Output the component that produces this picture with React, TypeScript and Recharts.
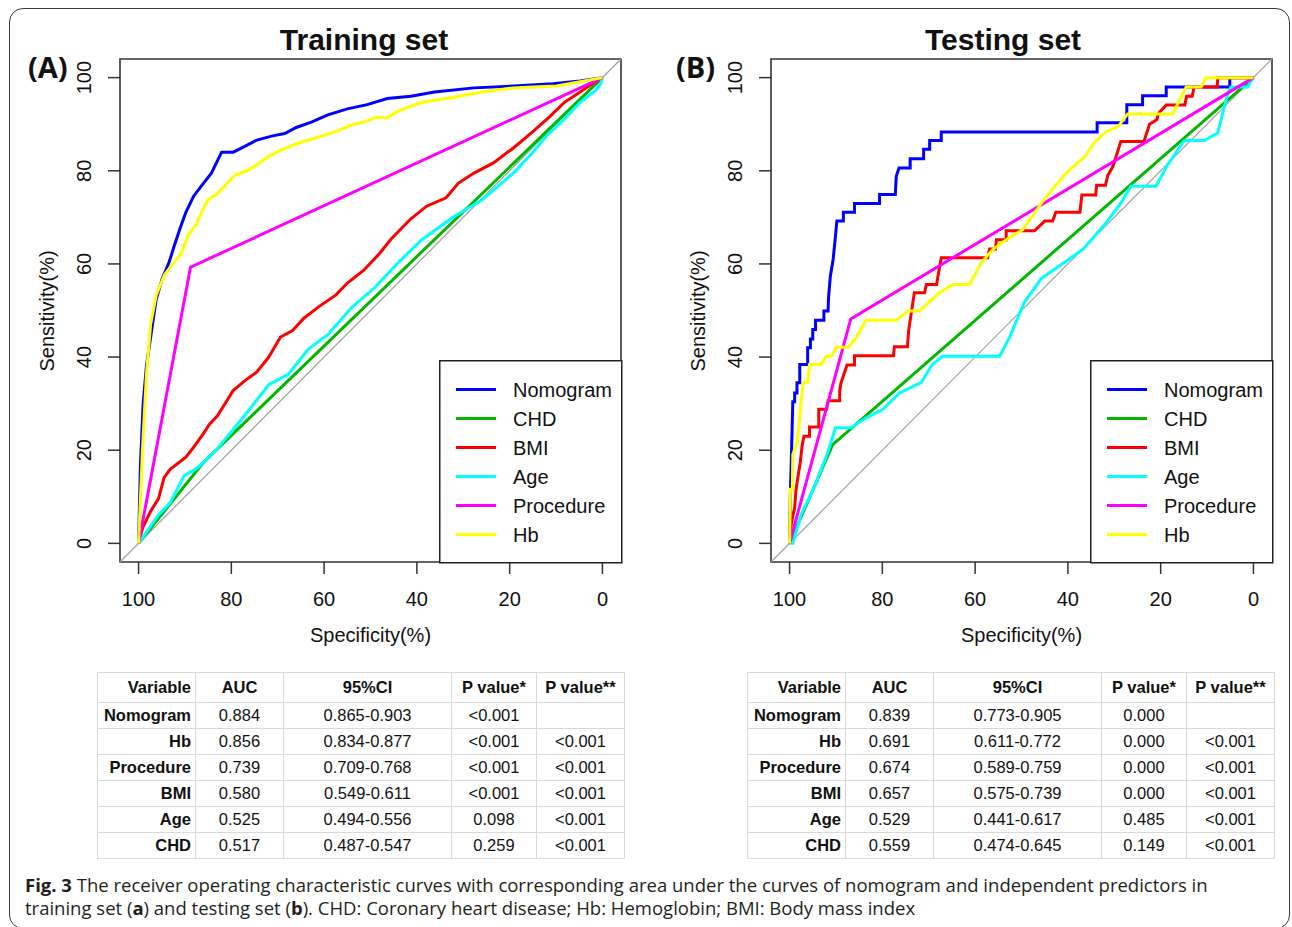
import React from 'react';
import {
  LineChart,
  Line,
  XAxis,
  YAxis,
  ReferenceArea,
  ReferenceLine,
  Legend,
} from 'recharts';

// [specificity %, sensitivity %]
const trainNomogram: [number, number][] = [
  [100, 0], [99.6, 16.7], [99.0, 30.1], [98.3, 38.1], [97.0, 47.0], [96.2, 52.4], [94.9, 56.8],
  [93.4, 60.4], [92.3, 63.9], [91.1, 67.5], [89.8, 71.1], [88.1, 74.6], [86.4, 76.8], [84.3, 79.5],
  [82.1, 84.0], [79.6, 84.0], [77.0, 85.3], [74.5, 86.6], [71.1, 87.5], [68.5, 88.0], [66.0, 89.3],
  [62.6, 90.5], [59.2, 92.0], [55.0, 93.3], [50.7, 94.2], [46.4, 95.5], [41.3, 96.0], [36.2, 96.9],
  [27.7, 97.8], [19.2, 98.2], [10.7, 98.7], [4.8, 99.3], [0, 100],
];
const trainChd: [number, number][] = [[100, 0], [86, 17.4], [0, 100]];
const trainBmi: [number, number][] = [
  [100, 0], [99.1, 3.4], [97.4, 6.9], [95.7, 9.6], [94.5, 14.1], [93.2, 15.9], [91.5, 17.2],
  [89.8, 18.5], [88.1, 20.7], [86.4, 23.0], [84.7, 25.6], [83.0, 27.4], [81.3, 30.1], [79.6, 32.8],
  [77.0, 35.0], [74.5, 36.8], [72.0, 39.9], [69.4, 44.3], [66.8, 45.7], [64.3, 48.4], [60.9, 51.0],
  [57.5, 53.3], [55.0, 55.9], [51.5, 58.6], [48.1, 62.2], [45.6, 65.3], [41.3, 69.7], [37.9, 72.4],
  [33.7, 74.2], [31.1, 77.3], [27.7, 79.5], [23.5, 81.7], [19.2, 84.9], [15.0, 88.4], [11.6, 91.4],
  [8.2, 94.7], [4.8, 96.9], [2.2, 98.7], [0, 100],
];
const trainAge: [number, number][] = [
  [100, 0], [95.7, 6.1], [93.2, 8.7], [90.2, 14.5], [87.2, 16.3], [83.0, 20.3], [77.9, 26.5],
  [71.9, 34.1], [67.7, 36.3], [63.4, 41.7], [59.2, 44.8], [54.1, 50.6], [49.0, 55.0], [43.9, 60.4],
  [38.8, 65.3], [32.0, 70.2], [26.0, 73.7], [19.2, 79.5], [15.0, 84.0], [11.6, 88.0], [8.2, 91.1],
  [4.8, 94.7], [1.4, 97.3], [0.4, 98.6], [0, 100],
];
const trainProcedure: [number, number][] = [[100, 0], [88.8, 59.3], [0, 100]];
const trainHb: [number, number][] = [
  [100, 0], [99.1, 21.2], [98.3, 36.3], [97.4, 47.0], [96.2, 53.3], [94.4, 57.7], [92.7, 59.9],
  [90.8, 62.2], [89.3, 66.2], [87.6, 68.4], [86.4, 71.1], [85.1, 73.7], [83.0, 75.1], [80.9, 77.3],
  [79.2, 79.1], [76.6, 80.0], [74.5, 81.3], [72.0, 83.1], [69.4, 84.4], [66.0, 85.8], [61.7, 87.1],
  [57.5, 88.4], [54.1, 89.8], [50.7, 90.7], [48.6, 91.5], [46.4, 91.4], [43.9, 92.9], [38.8, 94.7],
  [32.0, 95.8], [26.0, 96.9], [19.2, 97.8], [15.0, 98.0], [9.9, 98.2], [4.8, 99.1], [0, 100],
];

const testNomogram: [number, number][] = [
  [100, 0], [99.8, 11.6], [99.6, 18.7], [99.3, 30.4], [98.9, 30.4], [98.9, 32.3], [98.4, 32.3],
  [98.4, 34.5], [97.8, 34.5], [97.8, 38.4], [96.1, 38.4], [96.1, 42.0], [95.5, 42.0], [95.5, 43.9],
  [95.0, 43.9], [95.0, 45.9], [94.4, 45.9], [94.4, 47.9], [92.6, 47.9], [92.6, 49.9], [91.7, 49.9],
  [91.6, 52.7], [91.2, 57.4], [90.6, 61.0], [90.2, 65.0], [89.8, 69.2], [88.4, 69.2], [88.4, 71.1],
  [86.0, 71.1], [86.0, 73.0], [80.6, 73.0], [80.6, 74.9], [77.2, 74.9], [77.0, 78.8], [76.4, 80.6],
  [74.0, 80.6], [74.0, 82.6], [71.1, 82.6], [71.1, 84.6], [69.8, 84.6], [69.8, 86.5], [67.3, 86.5],
  [67.3, 88.3], [33.7, 88.3], [33.7, 90.3], [27.3, 90.3], [27.3, 94.2], [23.9, 94.2], [23.9, 96.1],
  [18.8, 96.1], [18.8, 98.0], [5.1, 98.0], [5.1, 100], [0, 100],
];
const testChd: [number, number][] = [[100, 0], [90.7, 21.2], [0, 100]];
const testBmi: [number, number][] = [
  [100, 0], [99.6, 4.4], [99.3, 5.9], [98.9, 7.7], [98.6, 11.6], [98.0, 15.5], [97.7, 17.3],
  [97.3, 20.9], [96.9, 23.0], [95.7, 23.0], [95.7, 25.0], [93.7, 25.0], [93.7, 28.8], [92.0, 28.8],
  [91.7, 30.6], [89.2, 30.6], [89.2, 32.7], [88.9, 34.5], [87.6, 38.3], [86.0, 38.3], [86.0, 40.3],
  [77.6, 40.3], [77.4, 42.2], [74.6, 42.2], [74.3, 45.9], [73.1, 53.8], [70.9, 53.8], [70.5, 55.6],
  [68.3, 55.6], [68.0, 57.4], [67.3, 61.3], [57.3, 61.3], [56.9, 63.2], [55.6, 63.2], [55.4, 65.2],
  [53.3, 65.2], [53.3, 67.1], [47.2, 67.1], [45.0, 69.2], [43.3, 69.2], [42.6, 71.1], [37.4, 71.1],
  [37.0, 74.8], [34.0, 74.8], [33.8, 76.9], [31.9, 76.9], [31.4, 79.0], [30.3, 80.9], [28.6, 86.3],
  [23.6, 86.3], [22.4, 90.0], [20.8, 91.0], [20.5, 92.3], [18.8, 94.1], [14.8, 94.1], [14.4, 96.0],
  [13.2, 96.0], [12.8, 98.0], [7.8, 98.0], [7.7, 100], [0, 100],
];
const testAge: [number, number][] = [
  [100, 0], [99.3, 0], [97.5, 6.2], [94.9, 11.6], [91.9, 19.1], [90.1, 24.8], [86.7, 24.8],
  [83.9, 26.7], [79.9, 28.8], [76.3, 32.3], [71.6, 34.5], [69.4, 38.2], [67.0, 40.2], [54.7, 40.2],
  [52.5, 44.4], [49.4, 51.7], [45.7, 56.9], [43.1, 58.7], [36.8, 63.1], [32.1, 68.4], [28.7, 72.9],
  [26.4, 76.7], [21.0, 76.7], [18.5, 81.3], [14.9, 86.5], [10.6, 86.5], [7.7, 88.1], [5.8, 95.6],
  [4.9, 98.0], [1.2, 98.0], [0.7, 99.0], [0, 100],
];
const testProcedure: [number, number][] = [[100, 0], [86.8, 48.2], [0, 100]];
const testHb: [number, number][] = [
  [100, 0], [99.8, 11.6], [99.4, 11.6], [99.3, 19.1], [98.3, 22.0], [97.6, 29.3], [97.1, 34.5],
  [96.1, 34.5], [95.7, 38.4], [93.2, 38.4], [92.1, 40.2], [91.0, 40.2], [89.9, 42.1], [87.4, 42.1],
  [85.6, 44.1], [83.6, 47.9], [77.0, 47.9], [74.5, 49.9], [72.0, 49.9], [67.7, 53.8], [64.8, 55.6],
  [61.2, 55.6], [58.7, 60.2], [56.2, 63.1], [53.3, 65.2], [49.7, 67.4], [45.4, 73.5], [40.4, 79.5],
  [36.3, 83.1], [34.2, 86.2], [31.7, 88.4], [29.1, 89.6], [27.1, 92.2], [17.4, 92.2], [15.5, 96.0],
  [14.5, 98.0], [11.3, 98.0], [10.2, 100], [0, 100],
];

const seriesNames = ['Nomogram', 'CHD', 'BMI', 'Age', 'Procedure', 'Hb'];
const seriesColors = ['#0000FF', '#00B800', '#FF0000', '#00FFFF', '#FF00FF', '#FFFF00'];
const axisTicks = [0, 20, 40, 60, 80, 100];

// table under each panel
const tableHeader = ['Variable', 'AUC', '95%CI', 'P value*', 'P value**'];
const tableVariables = ['Nomogram', 'Hb', 'Procedure', 'BMI', 'Age', 'CHD'];
const trainAuc = ['0.884', '0.856', '0.739', '0.580', '0.525', '0.517'];
const trainCi = ['0.865-0.903', '0.834-0.877', '0.709-0.768', '0.549-0.611', '0.494-0.556', '0.487-0.547'];
const trainP1 = ['<0.001', '<0.001', '<0.001', '<0.001', '0.098', '0.259'];
const trainP2 = ['', '<0.001', '<0.001', '<0.001', '<0.001', '<0.001'];
const testAuc = ['0.839', '0.691', '0.674', '0.657', '0.529', '0.559'];
const testCi = ['0.773-0.905', '0.611-0.772', '0.589-0.759', '0.575-0.739', '0.441-0.617', '0.474-0.645'];
const testP1 = ['0.000', '0.000', '0.000', '0.000', '0.485', '0.149'];
const testP2 = ['', '<0.001', '<0.001', '<0.001', '<0.001', '<0.001'];

const ARIAL = '"Liberation Sans", Arial, Helvetica, sans-serif';

const toPoints = (pairs: [number, number][]) => pairs.map(([x, y]) => ({ x, y }));

function RotatedTick(props: any) {
  const { x, y, payload } = props;
  return (
    <text
      x={x}
      y={y}
      transform={`rotate(-90 ${x} ${y})`}
      textAnchor="middle"
      fontSize={20}
      fill="#111"
    >
      {payload.value}
    </text>
  );
}

// legend keeps the order the curves were added in (not sorted)
function LegendBox() {
  return (
    <svg width={184} height={204} style={{ display: 'block' }}>
      <rect x={0.75} y={0.75} width={182} height={202} fill="#fff" stroke="#222" strokeWidth={1.5} />
      {seriesNames.map((name, i) => {
        const cy = 29.5 + i * 29;
        return (
          <g key={name}>
            <line x1={17} x2={57} y1={cy} y2={cy} stroke={seriesColors[i]} strokeWidth={3} />
            <text x={74} y={cy + 7} fontSize={20} fill="#111" fontFamily={ARIAL}>
              {name}
            </text>
          </g>
        );
      })}
    </svg>
  );
}

function RocPanel({ left, curves }: { left: number; curves: [number, number][][] }) {
  return (
    <div style={{ position: 'absolute', left, top: 0, fontFamily: ARIAL }}>
      <LineChart width={650} height={650} margin={{ top: 59, right: 29, bottom: 28, left: 0 }}>
        <XAxis
          type="number"
          dataKey="x"
          domain={[-4, 104]}
          reversed
          allowDataOverflow
          ticks={axisTicks}
          interval={0}
          height={60}
          tickSize={12}
          tickMargin={18}
          axisLine={false}
          stroke="#333"
          tickLine={{ stroke: '#333', strokeWidth: 1.5 }}
          tick={{ fontSize: 20, fill: '#111' }}
        />
        <YAxis
          type="number"
          domain={[-4, 104]}
          allowDataOverflow
          ticks={axisTicks}
          interval={0}
          width={120}
          tickSize={12}
          tickMargin={17}
          axisLine={false}
          stroke="#333"
          tickLine={{ stroke: '#333', strokeWidth: 1.5 }}
          tick={(p: any) => <RotatedTick {...p} />}
        />
        <ReferenceArea x1={-4} x2={104} y1={-4} y2={104} fill="none" stroke="#333" strokeWidth={1.6} />
        <ReferenceLine
          segment={[{ x: 104, y: -4 }, { x: -4, y: 104 }]}
          stroke="#a0a0a0"
          strokeWidth={1.2}
        />
        {curves.map((c, i) => (
          <Line
            key={seriesNames[i]}
            name={seriesNames[i]}
            data={toPoints(c)}
            dataKey="y"
            type="linear"
            stroke={seriesColors[i]}
            strokeWidth={3}
            dot={false}
            activeDot={false}
            isAnimationActive={false}
          />
        ))}
        <Legend
          layout="vertical"
          align="center"
          verticalAlign="middle"
          wrapperStyle={{ left: 439, top: 360, width: 184, height: 204 }}
          content={() => <LegendBox />}
        />
      </LineChart>
    </div>
  );
}

function StatsTable({ left, auc, ci, p1, p2 }: { left: number; auc: string[]; ci: string[]; p1: string[]; p2: string[] }) {
  const widths = [98, 88, 168, 85, 88];
  const cell: React.CSSProperties = {
    border: '1px solid #d9d9d9',
    padding: 0,
    textAlign: 'center',
    whiteSpace: 'nowrap',
  };
  return (
    <table
      style={{
        position: 'absolute',
        left,
        top: 672,
        width: 527,
        borderCollapse: 'collapse',
        tableLayout: 'fixed',
        fontFamily: ARIAL,
        fontSize: 16.5,
        color: '#111',
      }}
    >
      <colgroup>
        {widths.map((w, i) => (
          <col key={i} style={{ width: w }} />
        ))}
      </colgroup>
      <tbody>
        <tr style={{ height: 30 }}>
          {tableHeader.map((h, i) => (
            <td
              key={h}
              style={{ ...cell, fontWeight: 700, textAlign: i === 0 ? 'right' : 'center', paddingRight: i === 0 ? 4 : 0 }}
            >
              {h}
            </td>
          ))}
        </tr>
        {tableVariables.map((v, r) => (
          <tr key={v} style={{ height: 26 }}>
            <td style={{ ...cell, fontWeight: 700, textAlign: 'right', paddingRight: 4 }}>{v}</td>
            <td style={cell}>{auc[r]}</td>
            <td style={cell}>{ci[r]}</td>
            <td style={cell}>{p1[r]}</td>
            <td style={cell}>{p2[r]}</td>
          </tr>
        ))}
      </tbody>
    </table>
  );
}

export default function App() {
  return (
    <div
      style={{
        position: 'absolute',
        left: 0,
        top: 0,
        width: 1292,
        height: 927,
        overflow: 'hidden',
        background: '#fff',
      }}
    >
      <div
        style={{
          position: 'absolute',
          left: 9,
          top: 8,
          width: 1281,
          height: 921,
          border: '1.5px solid #3a3a3a',
          borderRadius: 14,
          boxSizing: 'border-box',
        }}
      />

      <RocPanel left={0} curves={[trainNomogram, trainChd, trainBmi, trainAge, trainProcedure, trainHb]} />
      <RocPanel left={651} curves={[testNomogram, testChd, testBmi, testAge, testProcedure, testHb]} />

      <svg
        width={1292}
        height={700}
        style={{ position: 'absolute', left: 0, top: 0, pointerEvents: 'none' }}
      >
        <g fontFamily={ARIAL} fill="#111">
          <text x={364} y={50} fontSize={30} fontWeight={700} textAnchor="middle">Training set</text>
          <text x={1003} y={50} fontSize={30} fontWeight={700} textAnchor="middle">Testing set</text>
          <text x={370.5} y={642} fontSize={20} textAnchor="middle">Specificity(%)</text>
          <text x={1021.5} y={642} fontSize={20} textAnchor="middle">Specificity(%)</text>
          <text x={53.5} y={311} fontSize={20} textAnchor="middle" transform="rotate(-90 53.5 311)">Sensitivity(%)</text>
          <text x={704.5} y={311} fontSize={20} textAnchor="middle" transform="rotate(-90 704.5 311)">Sensitivity(%)</text>
        </g>
        <g fontFamily='"Open Sans", sans-serif' fontWeight={700} fontSize={29} fill="#111">
          <text x={28} y={78}>(A)</text>
          <text x={676} y={78}>(B)</text>
        </g>
      </svg>

      <StatsTable left={97} auc={trainAuc} ci={trainCi} p1={trainP1} p2={trainP2} />
      <StatsTable left={747} auc={testAuc} ci={testCi} p1={testP1} p2={testP2} />

      <div
        style={{
          position: 'absolute',
          left: 25,
          top: 873,
          width: 1260,
          fontFamily: '"Open Sans", sans-serif',
          fontSize: 18.5,
          lineHeight: '23px',
          color: '#231f20',
          whiteSpace: 'nowrap',
        }}
      >
        <b>Fig. 3</b> The receiver operating characteristic curves with corresponding area under the curves of nomogram and independent predictors in
        <br />
        training set (<b>a</b>) and testing set (<b>b</b>). CHD: Coronary heart disease; Hb: Hemoglobin; BMI: Body mass index
      </div>
    </div>
  );
}
